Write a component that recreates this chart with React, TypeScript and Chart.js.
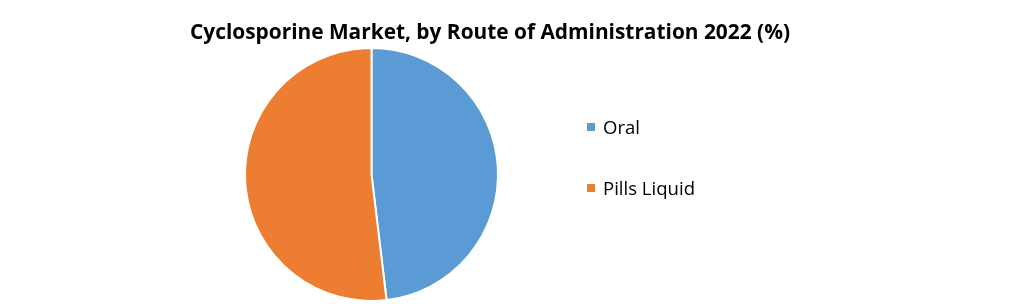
import React, { useEffect, useRef } from "react";
import { Chart, registerables } from "chart.js";

Chart.register(...registerables);

const titleText = "Cyclosporine Market, by Route of Administration 2022 (%)";
const categories = ["Oral", "Pills Liquid"];
const shares = [48.1, 51.9];
const colors = ["#5B9BD5", "#ED7D31"];

const FONT = "'Open Sans', Lato, sans-serif";

function fitSize(ctx: CanvasRenderingContext2D, weight: string, text: string, target: number) {
  ctx.font = `${weight} 20px ${FONT}`;
  const w = ctx.measureText(text).width;
  return (20 * target) / w;
}

const overlayPlugin = {
  id: "overlay",
  afterDraw(chart: any) {
    const ctx = chart.ctx as CanvasRenderingContext2D;
    ctx.save();
    ctx.fillStyle = "#000";
    const ts = fitSize(ctx, "bold", titleText, 600);
    ctx.font = `bold ${ts}px ${FONT}`;
    ctx.textAlign = "center";
    ctx.textBaseline = "alphabetic";
    ctx.fillText(titleText, 490, 39);

    const labels = chart.data.labels as string[];
    const ls = fitSize(ctx, "normal", labels[labels.length - 1], 92);
    ctx.font = `normal ${ls}px ${FONT}`;
    ctx.textAlign = "left";
    const bg = chart.data.datasets[0].backgroundColor as string[];
    labels.forEach((lab, i) => {
      const y = 134 + i * 61;
      ctx.fillStyle = bg[i];
      ctx.fillRect(587, y - 11, 8, 8);
      ctx.fillStyle = "#000";
      ctx.fillText(lab, 603, y);
    });
    ctx.restore();
  },
};

export default function App() {
  const ref = useRef<HTMLCanvasElement>(null);
  useEffect(() => {
    if (!ref.current) return;
    const chart = new Chart(ref.current, {
      type: "pie",
      data: {
        labels: categories,
        datasets: [
          {
            data: shares,
            backgroundColor: colors,
            borderColor: "#ffffff",
            borderWidth: 2,
          },
        ],
      },
      options: {
        responsive: false,
        animation: false,
        layout: { padding: { top: 47, bottom: 2, left: 244, right: 522 } },
        plugins: {
          legend: { display: false },
          title: { display: false },
          tooltip: { enabled: false },
        },
      },
      plugins: [overlayPlugin],
    });
    return () => chart.destroy();
  }, []);
  return (
    <div style={{ position: "absolute", left: 0, top: 0, width: 1021, height: 304, background: "#fff" }}>
      <canvas ref={ref} width={1021} height={304} style={{ width: 1021, height: 304 }} />
    </div>
  );
}
